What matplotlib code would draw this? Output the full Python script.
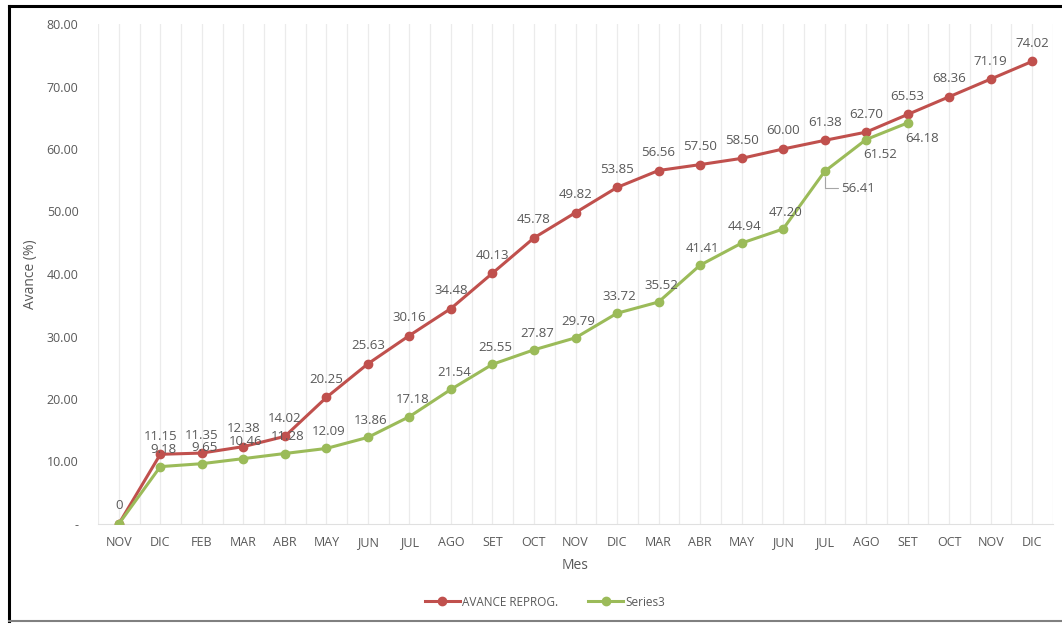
import matplotlib
matplotlib.use("Agg")
import matplotlib.pyplot as plt
from matplotlib.lines import Line2D
import numpy as np

months = ["NOV", "DIC", "FEB", "MAR", "ABR", "MAY", "JUN", "JUL", "AGO", "SET", "OCT",
          "NOV", "DIC", "MAR", "ABR", "MAY", "JUN", "JUL", "AGO", "SET", "OCT", "NOV", "DIC"]
avance_reprog = [0, 11.15, 11.35, 12.38, 14.02, 20.25, 25.63, 30.16, 34.48, 40.13, 45.78,
                 49.82, 53.85, 56.56, 57.50, 58.50, 60.00, 61.38, 62.70, 65.53, 68.36, 71.19, 74.02]
series3 = [0, 9.18, 9.65, 10.46, 11.28, 12.09, 13.86, 17.18, 21.54, 25.55, 27.87,
           29.79, 33.72, 35.52, 41.41, 44.94, 47.20, 56.41, 61.52, 64.18]
y_ticks = [0, 10, 20, 30, 40, 50, 60, 70, 80]

RED = "#C0504D"
GREEN = "#9BBB59"
TXT = "#595959"
FONT = "Open Sans"

plt.rcParams['font.family'] = [FONT, 'DejaVu Sans']

fig = plt.figure(figsize=(10.62, 6.24), dpi=100)
W, H = 1062, 624
ax = fig.add_axes([98 / W, (H - 524) / H, (1053 - 98) / W, 500 / H])

n = len(months)
x_red = np.arange(len(avance_reprog))
x_green = np.arange(len(series3))

# vertical gridlines at every half category
for gx in np.arange(-0.5, n, 0.5):
    ax.axvline(gx, color="#EBEBEB", lw=0.9, zorder=0)

ax.plot(x_red, avance_reprog, color=RED, lw=2.2, marker="o", ms=6, zorder=3)
ax.plot(x_green, series3, color=GREEN, lw=2.2, marker="o", ms=6, zorder=4)

ax.set_xlim(-0.5, n - 0.5)
ax.set_ylim(0, 80)
ax.set_xticks(np.arange(n))
ax.set_xticklabels(months, fontsize=9, color=TXT)
ax.set_yticks(y_ticks)
ax.set_yticklabels(["-" if v == 0 else f"{v:.2f}" for v in y_ticks], fontsize=9, color=TXT)
ax.tick_params(axis="both", length=0, pad=9)
ax.tick_params(axis="y", pad=14)
for s in ["top", "right", "left"]:
    ax.spines[s].set_visible(False)
ax.spines["bottom"].set_color("#E0E0E0")

ax.set_xlabel("Mes", fontsize=10, color=TXT, labelpad=6)
ax.set_ylabel("Avance (%)", fontsize=10, color=TXT)
ax.yaxis.set_label_coords((38 - 98) / 955, 0.5)

lab_kw = dict(fontsize=9.5, color=TXT, ha="center", va="center", zorder=6)
for i, v in enumerate(avance_reprog):
    txt = "0" if v == 0 else f"{v:.2f}"
    ax.annotate(txt, (i, v), xytext=(0, 13), textcoords="offset points", **lab_kw)

for i, v in enumerate(series3):
    if v == 0:
        continue
    txt = f"{v:.2f}"
    if i == 17:
        ax.annotate(txt, (i, v), xytext=(24, -12), textcoords="offset points",
                    fontsize=9.5, color=TXT, ha="center", va="center",
                    arrowprops=dict(arrowstyle="-", color="#A6A6A6", lw=0.8,
                                    connectionstyle="angle,angleA=0,angleB=90,rad=0",
                                    shrinkA=16, shrinkB=4))
    elif i in (18, 19):
        ax.annotate(txt, (i, v), xytext=(10, -11), textcoords="offset points", **lab_kw)
    else:
        ax.annotate(txt, (i, v), xytext=(2, 12), textcoords="offset points", **lab_kw)

handles = [Line2D([0], [0], color=RED, lw=2.2, marker="o", ms=6),
           Line2D([0], [0], color=GREEN, lw=2.2, marker="o", ms=6)]
fig.legend(handles, ["AVANCE REPROG.", "Series3"], loc="center",
           bbox_to_anchor=(545 / W, 1 - 602 / H), ncol=2, frameon=False,
           fontsize=8.5, labelcolor=TXT, handlelength=3, columnspacing=2.5, handletextpad=0.2)

# outer frame
fig.add_artist(Line2D([9 / W, 9 / W], [1 - 6 / H, 1 - 621 / H], color="black", lw=2.2,
                      transform=fig.transFigure))
fig.add_artist(Line2D([9 / W, 1], [1 - 6 / H, 1 - 6 / H], color="black", lw=2.2,
                      transform=fig.transFigure))
fig.add_artist(Line2D([9 / W, 1], [1 - 621 / H, 1 - 621 / H], color="#808080", lw=1.5,
                      transform=fig.transFigure))

fig.savefig("out.png", dpi=100)
